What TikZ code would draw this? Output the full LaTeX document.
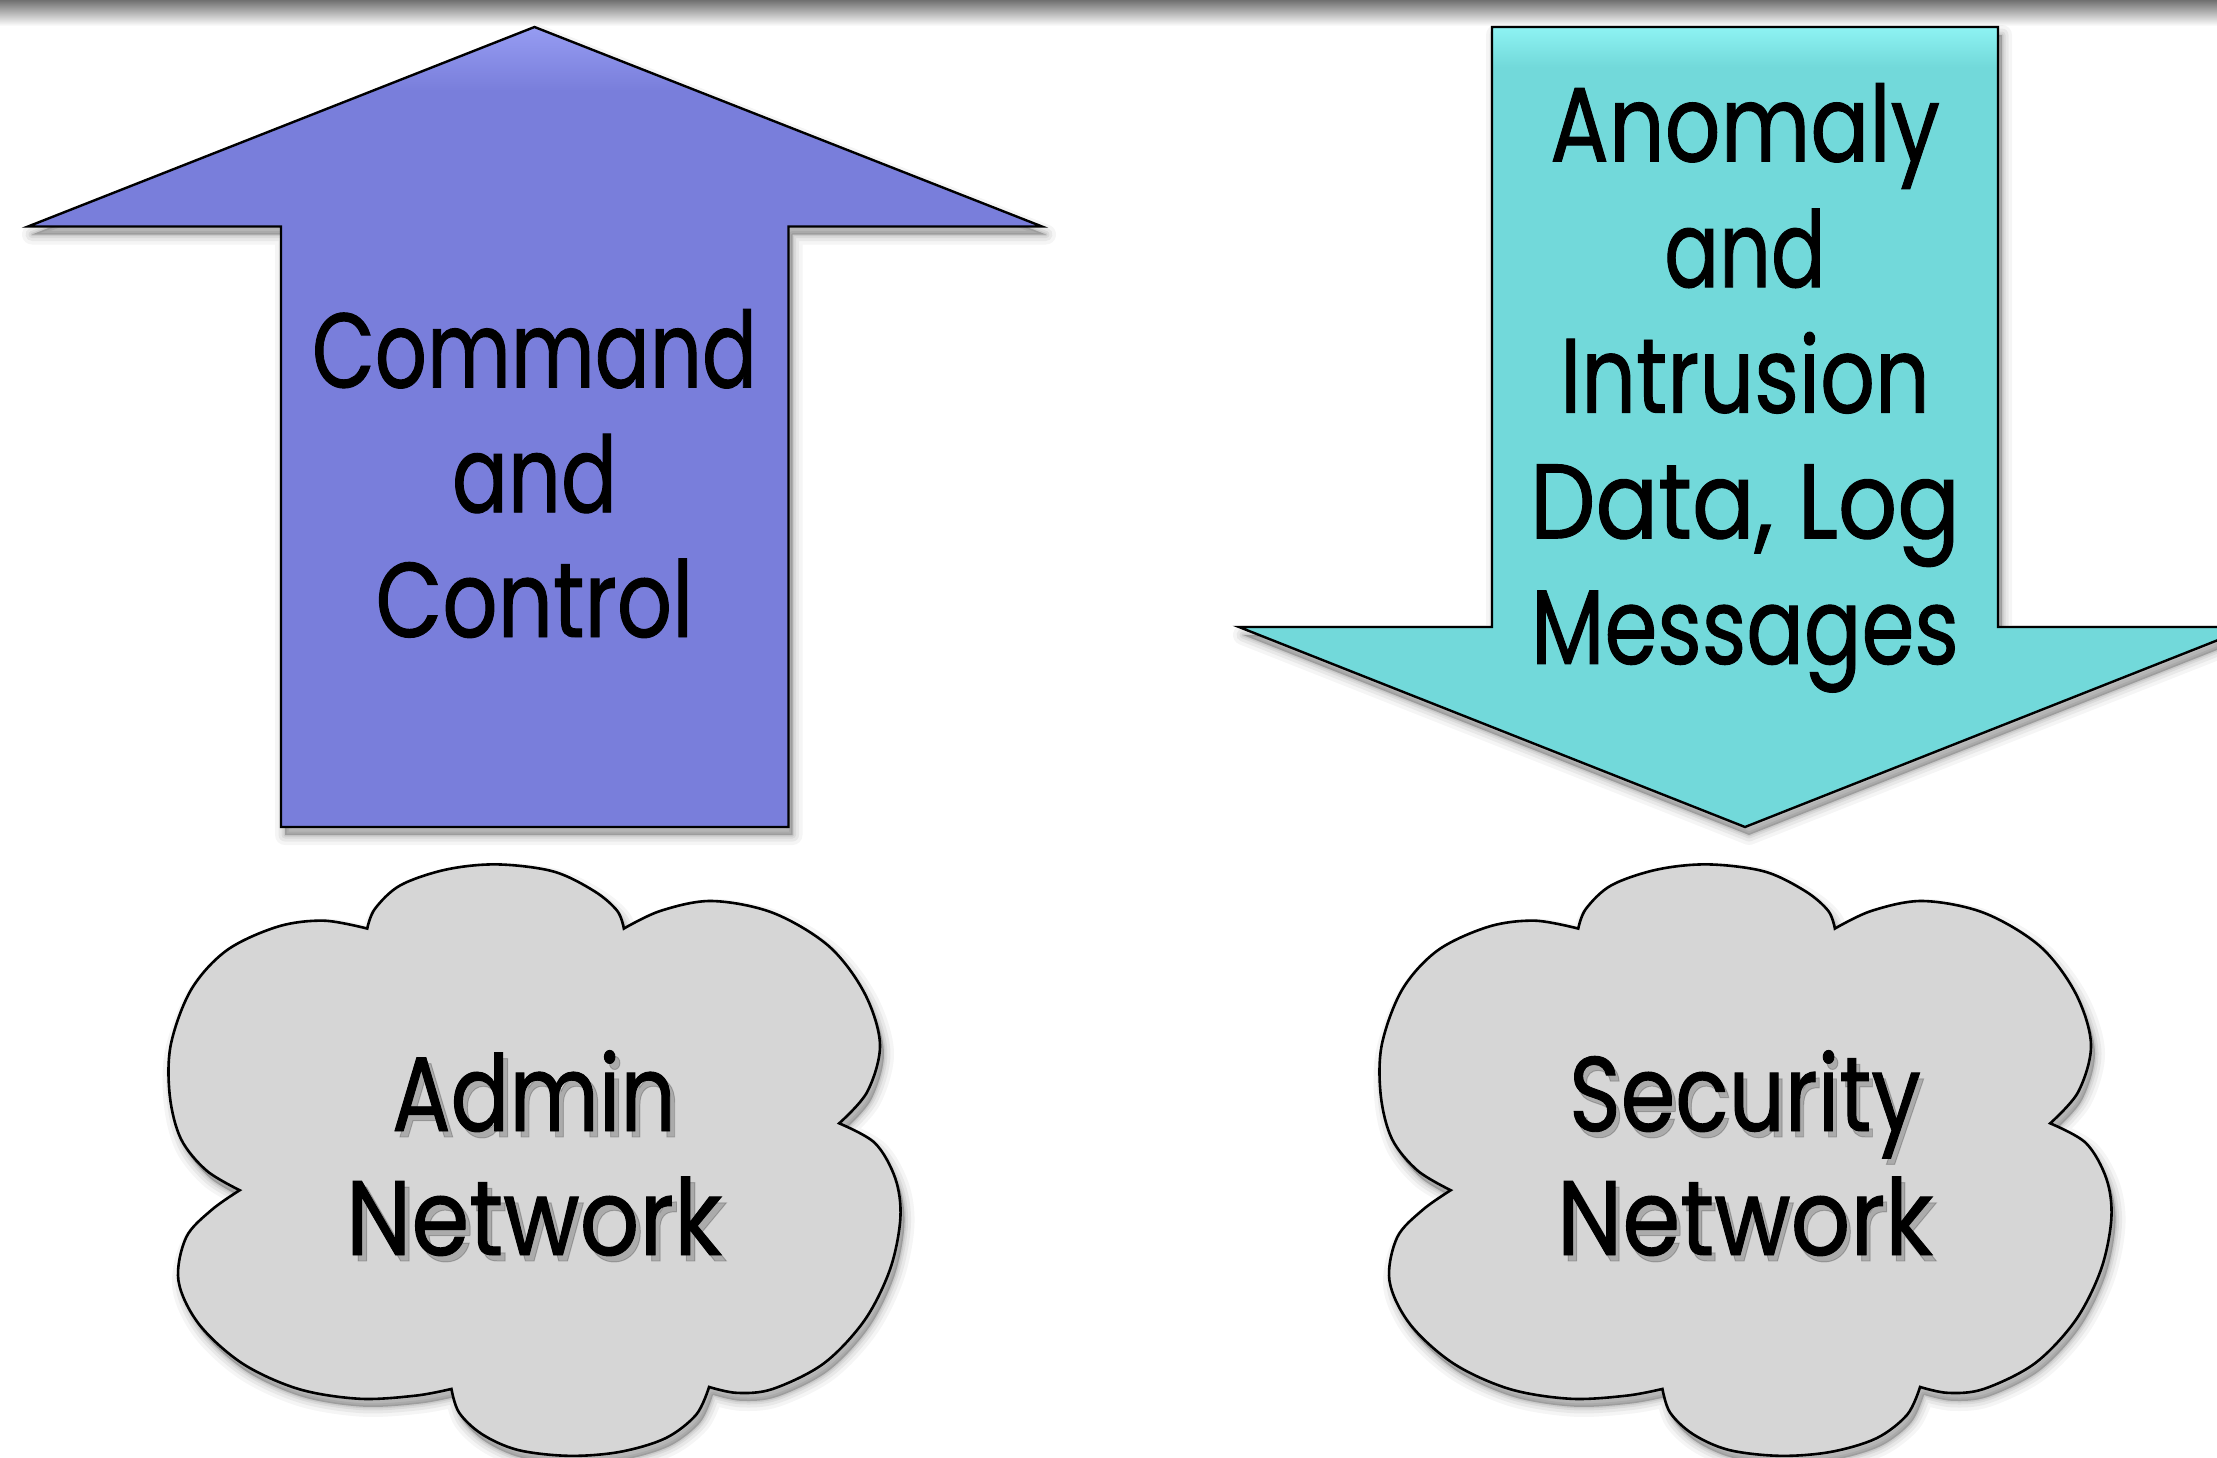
\documentclass[tikz,border=0pt]{standalone}
\usepackage{fontspec}
\usepackage{graphicx}
\setmainfont{Poppins}[FakeStretch=0.85, FakeBold=0.9]
\definecolor{upc}{RGB}{121,126,219}
\definecolor{uptop}{RGB}{150,156,242}
\definecolor{dnc}{RGB}{114,217,218}
\definecolor{dntop}{RGB}{142,243,243}
\definecolor{cloudc}{RGB}{214,214,214}
\definecolor{barc}{RGB}{112,112,112}
\pgfdeclareverticalshading{upshade}{100bp}{color(0bp)=(upc); color(25bp)=(upc); color(71bp)=(upc); color(75bp)=(uptop); color(100bp)=(uptop)}
\pgfdeclareverticalshading{dnshade}{100bp}{color(0bp)=(dnc); color(25bp)=(dnc); color(72.5bp)=(dnc); color(75bp)=(dntop); color(100bp)=(dntop)}
\newcommand\tlines[1]{\begin{tabular}[t]{@{}c@{}}#1\end{tabular}}
\newcommand\sx[2]{\scalebox{#1}[1]{#2}}
\newcommand\uppath{(534.5,27) -- (1042,226.5) -- (788.5,226.5) -- (788.5,827) -- (281,827) -- (281,226.5) -- (28,226.5) -- cycle}
\newcommand\dnpath{(1492,27) -- (1998,27) -- (1998,627) -- (2251,627) -- (1745,827) -- (1239,627) -- (1492,627) -- cycle}
\newcommand\cloudpath{plot[smooth,tension=0.55] coordinates {(465,225) (480,175) (530,115) (620,75) (720,62) (830,80) (910,130) (955,180) (968,225)}
 -- plot[smooth,tension=0.55] coordinates {(968,225) (1040,180) (1140,155) (1260,185) (1370,270) (1440,390) (1470,520) (1445,640) (1390,720)}
 -- plot[smooth,tension=0.55] coordinates {(1390,720) (1460,770) (1500,860) (1510,960) (1490,1090) (1440,1220) (1360,1330) (1260,1395) (1190,1405) (1135,1390)}
 -- plot[smooth,tension=0.55] coordinates {(1135,1390) (1110,1460) (1050,1520) (960,1555) (860,1565) (760,1550) (690,1510) (645,1455) (630,1395)}
 -- plot[smooth,tension=0.55] coordinates {(630,1395) (560,1412) (450,1420) (330,1395) (220,1330) (135,1230) (95,1120) (110,1010) (160,940) (215,890)}
 -- plot[smooth,tension=0.55] coordinates {(215,890) (150,840) (100,760) (78,650) (80,520) (120,380) (190,280) (290,220) (380,205) (465,225)} -- cycle}
\newcommand\softshadow[1]{%
  \foreach \w/\o in {20/0.04,13/0.05,7/0.06,3/0.07}{\path[draw=black, line width=\w pt, draw opacity=\o, line join=round] #1;}%
  \path[fill=black, fill opacity=0.22] #1;}
\newcommand\admintext{\tlines{\sx{0.965}{Admin}\\\sx{1.035}{Network}}}
\newcommand\sectext{\tlines{\sx{0.976}{Security}\\\sx{1.035}{Network}}}
\begin{document}
\begin{tikzpicture}[x=1pt, y=-1pt,
  outline/.style={draw=black, line width=2.4pt, line join=miter},
  lbl/.style={inner sep=0pt, anchor=base, text=black},
  cloudfont/.style={font={\fontsize{106}{124}\selectfont}},
  tshadow/.style={inner sep=0pt, anchor=base, text=black}]
\useasboundingbox (0,0) rectangle (2217,1457);
\clip (0,0) rectangle (2217,1457);
\fill[white] (0,0) rectangle (2217,1457);
\shade[top color=barc, bottom color=white] (0,0) rectangle (2217,26);

% arrows with soft shadows
\begin{scope}[shift={(4,8)}]\softshadow{\uppath}\end{scope}
\path[outline, shading=upshade] \uppath;
\begin{scope}[shift={(4,8)}]\softshadow{\dnpath}\end{scope}
\path[outline, shading=dnshade] \dnpath;

% clouds
\begin{scope}[shift={(134,848)}, xscale=0.5102, yscale=0.3935]\softshadow{\cloudpath}\end{scope}
\begin{scope}[shift={(130,840)}, xscale=0.5102, yscale=0.3935]
  \path[outline, line width=2.6pt, fill=cloudc] \cloudpath;
\end{scope}
\begin{scope}[shift={(1345,848)}, xscale=0.5102, yscale=0.3935]\softshadow{\cloudpath}\end{scope}
\begin{scope}[shift={(1341,840)}, xscale=0.5102, yscale=0.3935]
  \path[outline, line width=2.6pt, fill=cloudc] \cloudpath;
\end{scope}

% texts
\node[lbl, font={\fontsize{106}{124.75}\selectfont}] (cmd) at (534.5,387.5)
  {\tlines{\sx{0.904}{Command}\\\sx{0.92}{and}\\\sx{0.96}{Control}}};
\node[lbl, font={\fontsize{106}{125.6}\selectfont}] (anom) at (1745,161.5)
  {\tlines{\sx{0.968}{Anomaly}\\\sx{0.90}{and}\\\sx{0.952}{Intrusion}\\\sx{1.03}{Data, Log}\\\sx{0.946}{Messages}}};

\node[tshadow, cloudfont, text opacity=0.2] (adminsh) at (539,1137) {\admintext};
\node[tshadow, cloudfont, text opacity=0.2] (secsh) at (1749,1137) {\sectext};
\node[lbl, cloudfont] (admin) at (534,1131) {\admintext};
\node[lbl, cloudfont] (sec) at (1745,1131) {\sectext};
\end{tikzpicture}
\end{document}
